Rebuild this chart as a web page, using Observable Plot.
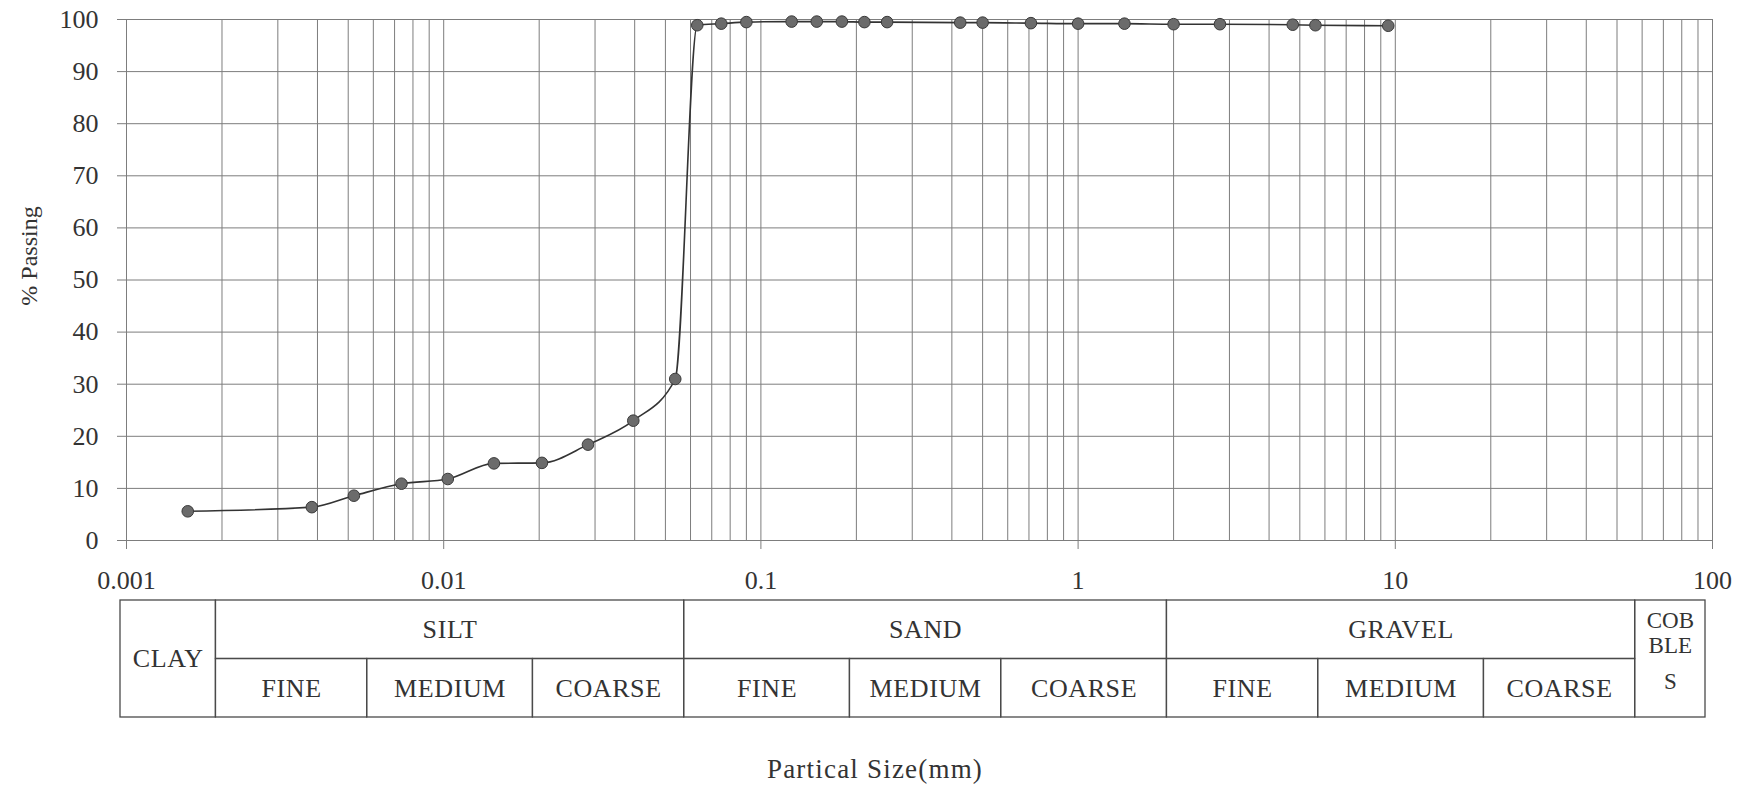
<!DOCTYPE html>
<html>
<head>
<meta charset="utf-8">
<script src="https://cdn.jsdelivr.net/npm/d3@7"></script>
<script src="https://cdn.jsdelivr.net/npm/@observablehq/plot@0.6"></script>
<style>
  body { margin: 0; background: #ffffff; }
  #chart { width: 1750px; height: 789px; position: relative; font-family: "Liberation Serif", serif; color: #333; }
  #chart svg { display: block; }
  #chart svg.class-table { position: absolute; left: 0; top: 590px; }
  #ytitle { position: absolute; left: 29px; top: 256px; transform: translate(-50%, -50%) rotate(-90deg); white-space: nowrap; font-size: 24px; line-height: 28px; color: #333; }
  #xtitle { position: absolute; left: 0; top: 754px; width: 1750px; text-align: center; font-size: 27px; letter-spacing: 1.2px; line-height: 30px; color: #333; }
  .table-text text { letter-spacing: 0.6px; }
</style>
</head>
<body>
<div id="chart"></div>
<script>
// Grain size distribution (hydrometer + sieve results)
const particleSize = [0.00156, 0.00384, 0.00521, 0.00736, 0.0103, 0.0144, 0.0204, 0.0285, 0.0396, 0.0537,
  0.063, 0.075, 0.09, 0.125, 0.15, 0.18, 0.212, 0.25, 0.425, 0.5, 0.71, 1.0, 1.4, 2.0, 2.8, 4.75, 5.6, 9.5];
const percentPassing = [5.6, 6.4, 8.6, 10.9, 11.8, 14.8, 14.9, 18.4, 23.0, 31.0,
  98.9, 99.2, 99.5, 99.6, 99.6, 99.6, 99.5, 99.5, 99.4, 99.4, 99.3, 99.2, 99.2, 99.1, 99.1, 99.0, 98.9, 98.8];

// Axis ticks
const xTickValues = [0.001, 0.01, 0.1, 1, 10, 100];
const xTickLabels = ["0.001", "0.01", "0.1", "1", "10", "100"];
const yTickValues = [0, 10, 20, 30, 40, 50, 60, 70, 80, 90, 100];
const gridDecades = [0.001, 0.01, 0.1, 1, 10];
const gridMultipliers = [1, 2, 3, 4, 5, 6, 7, 8, 9];

// Soil classification bands (mm)
const mainClasses = ["SILT", "SAND", "GRAVEL"];
const mainBounds = [[0.002, 0.06], [0.06, 2], [2, 60]];
const subClasses = ["FINE", "MEDIUM", "COARSE"];
const subBounds = [[0.002, 0.006, 0.02, 0.06], [0.06, 0.2, 0.6, 2], [2, 6, 20, 60]];
const clayBounds = [0.001, 0.002];
const cobbleBounds = [60, 100];
const cobbleLabel = ["COB", "BLE", "S"];

const axisTitleY = "% Passing";
const axisTitleX = "Partical Size(mm)";

const rows = particleSize.map((d, i) => ({size: d, passing: percentPassing[i]}));
const vGrid = gridDecades.flatMap(d => gridMultipliers.map(m => +(d * m).toPrecision(3))).concat([100]);
const xLabelOf = d => xTickLabels[xTickValues.findIndex(v => Math.abs(v - d) / v < 1e-6)] ?? "";

const ink = "#333333";
const gridInk = "#7d7d7d";

const chart = Plot.plot({
  width: 1750,
  height: 600,
  marginTop: 19,
  marginBottom: 60,
  marginLeft: 126,
  marginRight: 38,
  style: {fontFamily: "Liberation Serif, serif", fontSize: "26px", color: ink, background: "transparent"},
  x: {type: "log", domain: [0.001, 100]},
  y: {domain: [0, 100]},
  marks: [
    Plot.ruleX(vGrid, {stroke: gridInk, strokeWidth: 1}),
    Plot.ruleY(yTickValues, {stroke: gridInk, strokeWidth: 1}),
    Plot.axisX({ticks: xTickValues, tickSize: 9, tickPadding: 21, tickFormat: xLabelOf, label: null, stroke: gridInk, fill: ink}),
    Plot.axisY({ticks: yTickValues, tickSize: 9, tickPadding: 19, label: null, stroke: gridInk, fill: ink}),
    Plot.line(rows, {x: "size", y: "passing", curve: "monotone-x", stroke: ink, strokeWidth: 1.6}),
    Plot.dot(rows, {x: "size", y: "passing", r: 5.8, fill: "#6b6b6b", stroke: "#3a3a3a", strokeWidth: 1})
  ]
});

// Classification table cells
const cells = [];
cells.push({x1: clayBounds[0], x2: clayBounds[1], y1: 0, y2: 2});
mainClasses.forEach((name, i) => {
  cells.push({x1: mainBounds[i][0], x2: mainBounds[i][1], y1: 0, y2: 1});
  subClasses.forEach((sub, j) => cells.push({x1: subBounds[i][j], x2: subBounds[i][j + 1], y1: 1, y2: 2}));
});
cells.push({x1: cobbleBounds[0], x2: cobbleBounds[1], y1: 0, y2: 2});

const gmean = (a, b) => Math.sqrt(a * b);
const labels = [];
labels.push({x: gmean(...clayBounds), y: 1, text: "CLAY"});
mainClasses.forEach((name, i) => {
  labels.push({x: gmean(...mainBounds[i]), y: 0.5, text: name});
  subClasses.forEach((sub, j) => labels.push({x: gmean(subBounds[i][j], subBounds[i][j + 1]), y: 1.5, text: sub}));
});
const cobbleX = gmean(...cobbleBounds);

const table = Plot.plot({
  className: "class-table",
  width: 1750,
  height: 140,
  marginTop: 10,
  marginBottom: 13,
  marginLeft: 120,
  marginRight: 45,
  style: {fontFamily: "Liberation Serif, serif", fontSize: "26px", color: ink, background: "transparent"},
  x: {type: "log", domain: [0.001, 100], axis: null},
  y: {domain: [0, 2], reverse: true, axis: null},
  marks: [
    Plot.rect(cells, {x1: "x1", x2: "x2", y1: "y1", y2: "y2", fill: "none", stroke: "#4a4a4a", strokeWidth: 1.3}),
    Plot.text(labels, {x: "x", y: "y", text: "text", fill: ink, fontSize: 26, className: "table-text"}),
    Plot.text([cobbleLabel.slice(0, 2).join("\n")], {x: cobbleX, y: 0.55, text: d => d, fill: ink, fontSize: 23, lineHeight: 1.1}),
    Plot.text([cobbleLabel[2]], {x: cobbleX, y: 1.38, text: d => d, fill: ink, fontSize: 23})
  ]
});

const root = document.getElementById("chart");
root.appendChild(chart);
root.appendChild(table);
const ytitle = document.createElement("div");
ytitle.id = "ytitle";
ytitle.textContent = axisTitleY;
root.appendChild(ytitle);
const xtitle = document.createElement("div");
xtitle.id = "xtitle";
xtitle.textContent = axisTitleX;
root.appendChild(xtitle);
</script>
</body>
</html>
